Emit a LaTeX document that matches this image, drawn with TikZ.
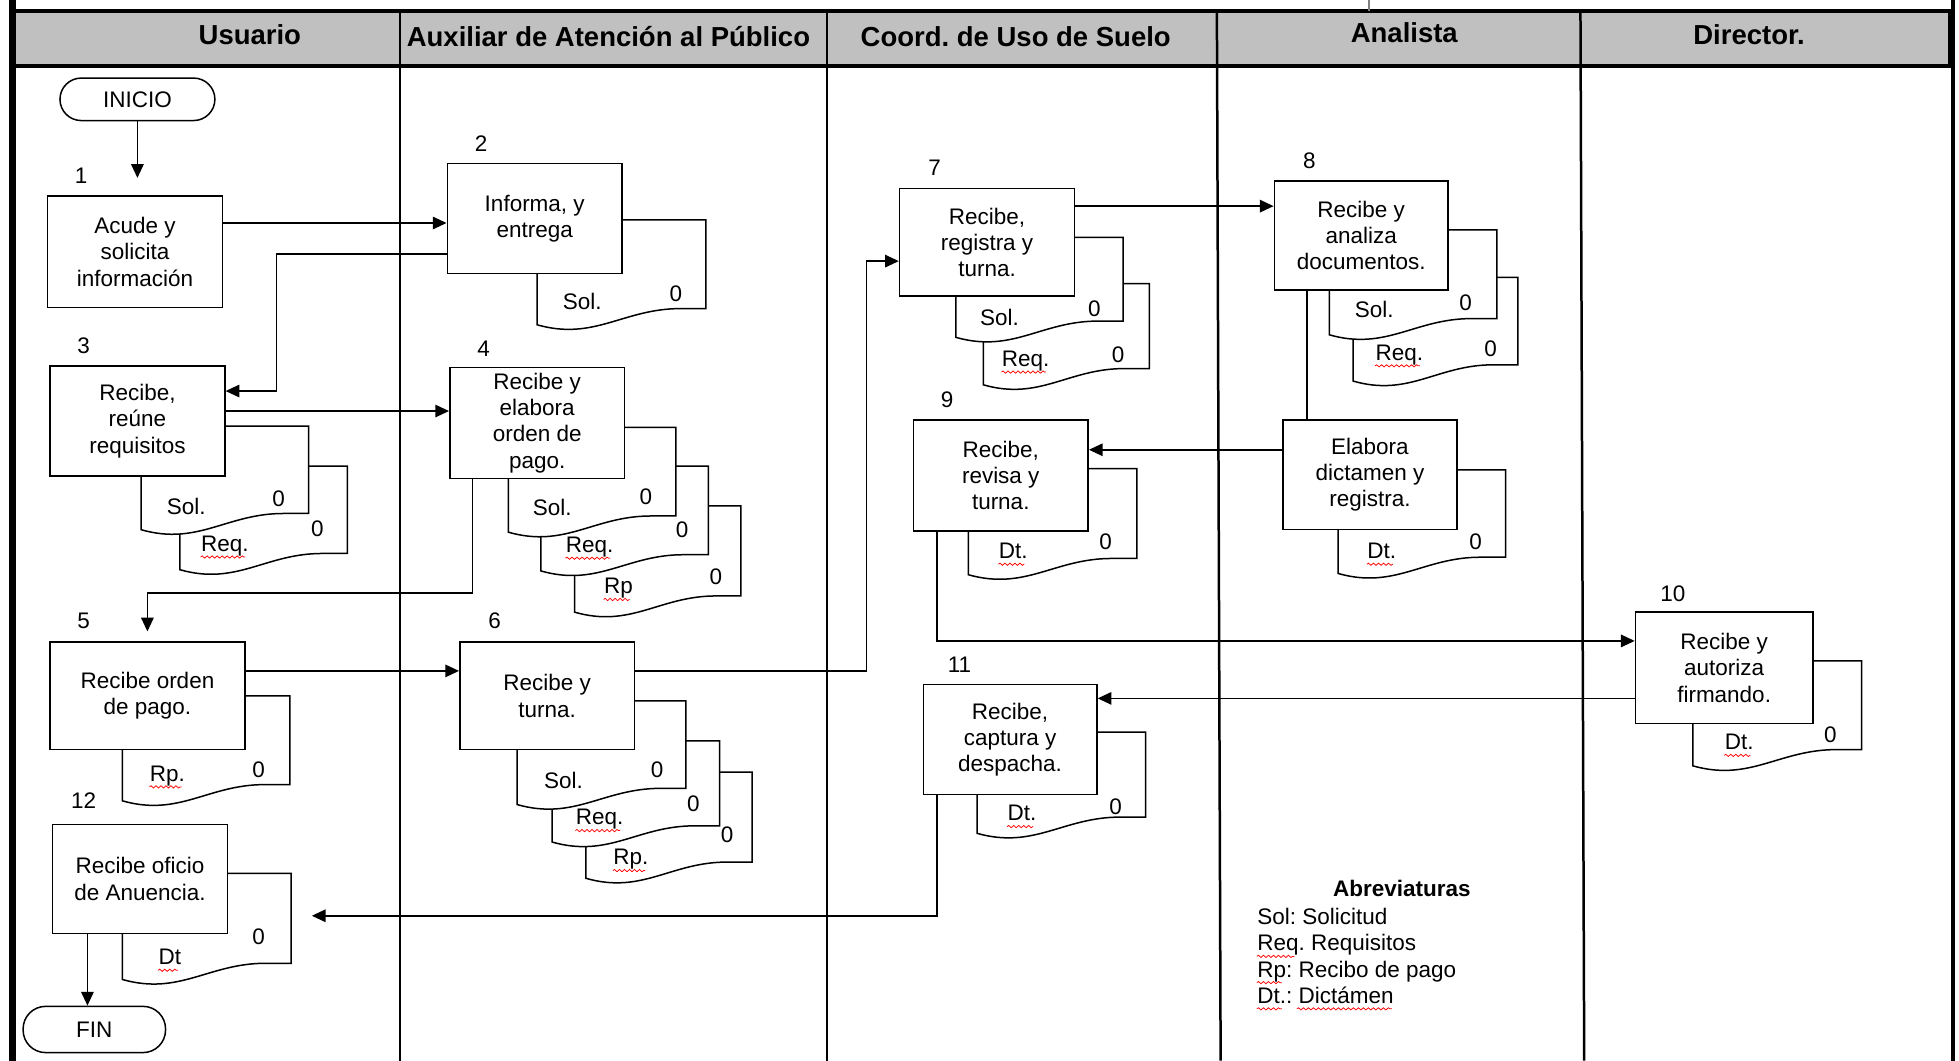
\documentclass[tikz,border=0pt]{standalone}
\usepackage{fontspec}
\setmainfont{Liberation Sans}
\usetikzlibrary{arrows.meta,calc,decorations.pathmorphing}
\definecolor{hdrgray}{HTML}{C0C0C0}
\frenchspacing
\newcommand\dfs{\fontsize{9}{10.5}\selectfont}
\newcommand\hdfs{\fontsize{11}{13}\selectfont\bfseries}
% document shape: #1 name, #2 L, #3 T, #4 R, #5 B, #6 label, #7 label pos, #8 zero pos, #9 squiggle flag
\newcommand\docu[9]{%
  \filldraw[docst] (#2,#3) -- (#4,#3) -- (#4,#5) -- ({#2+0.85*(#4-#2)},#5)
    .. controls ({#2+0.51*(#4-#2)},#5) and ({#2+0.34*(#4-#2)},{#5+26}) .. (#2,{#5+13}) -- cycle;
  \node[lbl] (#1l) at (#7) {#6};
  \node[lbl] (#1z) at (#8) {0};
  \ifnum#9=1 \draw[squig] ($(#1l.base west)+(0,4.5)$) -- ($(#1l.base east)+(-3,4.5)$);\fi
}
\begin{document}
\begin{tikzpicture}[x=0.5pt,y=-0.5pt,
  box/.style={draw, fill=white, line width=0.6pt, align=center, inner sep=0pt, font=\dfs},
  term/.style={draw, fill=white, line width=0.6pt, inner sep=0pt, font=\dfs},
  conn/.style={line width=0.6pt, -{Triangle[length=5.5pt,width=5pt]}},
  plainln/.style={line width=0.6pt},
  docst/.style={draw=black, fill=white, line width=0.6pt},
  lbl/.style={inner sep=0pt, font=\dfs},
  hdr/.style={inner sep=0pt, font=\hdfs},
  squig/.style={red, line width=0.3pt, decorate, decoration={snake, amplitude=0.45pt, segment length=2pt}},
  lane/.style={line width=1pt},
]
\useasboundingbox (0,0) rectangle (1568,849);

% ---------- frame and header ----------
\filldraw[fill=hdrgray, draw=black, line width=1.5pt] (10,9) rectangle (1561,53);
\draw[lane] (320,9) -- (320,849);
\draw[lane] (662,9) -- (662,849);
\draw[lane] (974,9) -- (977,849);
\draw[lane] (1265,9) -- (1268,849);
\draw[line width=2.5pt] (10,0) -- (10,849);
\draw[line width=1.5pt] (1563,0) -- (1563,849);
\draw[line width=0.8pt, gray] (1096,0) -- (1096,9);

\node[hdr] (h1) at (200,28) {Usuario};
\node[hdr] (h2) at (487,29) {Auxiliar de Atención al Público};
\node[hdr] (h3) at (813,29) {Coord. de Uso de Suelo};
\node[hdr] (h4) at (1124,26) {Analista};
\node[hdr] (h5) at (1400,28) {Director.};

% ---------- step numbers ----------
\node[lbl] (n1) at (65,141) {1};
\node[lbl] (n2) at (385,115) {2};
\node[lbl] (n3) at (67,277) {3};
\node[lbl] (n4) at (387,279) {4};
\node[lbl] (n5) at (67,497) {5};
\node[lbl] (n6) at (396,497) {6};
\node[lbl] (n7) at (748,134) {7};
\node[lbl] (n8) at (1048,129) {8};
\node[lbl] (n9) at (758,320) {9};
\node[lbl] (n10) at (1339,475) {10};
\node[lbl] (n11) at (768,532) {11};
\node[lbl] (n12) at (67,641) {12};

% ---------- documents (behind the boxes) ----------
\docu{dd2}{430}{176}{565}{247}{Sol.}{466,241}{541,235}{0}
\docu{dd3b}{144}{373}{278}{443}{Req.}{180,437}{254,423}{1}
\docu{dd3a}{113}{341}{247}{411}{Sol.}{149,405}{223,399}{0}
\docu{dd4c}{460}{405}{593}{477}{Rp}{495,471}{573,462}{1}
\docu{dd4b}{433}{373}{567}{444}{Req.}{472,438}{546,424}{1}
\docu{dd4a}{407}{342}{541}{413}{Sol.}{442,406}{517,398}{0}
\docu{dd5}{98}{557}{232}{628}{Rp.}{134,621}{207,616}{1}
\docu{dd6c}{469}{618}{602}{690}{Rp.}{505,688}{582,668}{1}
\docu{dd6b}{442}{593}{576}{661}{Req.}{480,656}{555,643}{1}
\docu{dd6a}{414}{561}{549}{631}{Sol.}{451,625}{526,616}{0}
\docu{dd7b}{787}{227}{920}{295}{Req.}{821,289}{895,284}{1}
\docu{dd7a}{765}{190}{899}{257}{Sol.}{800,254}{876,247}{0}
\docu{dd8b}{1083}{222}{1215}{292}{Req.}{1120,284}{1193,279}{1}
\docu{dd8a}{1064}{184}{1198}{255}{Sol.}{1100,248}{1173,242}{0}
\docu{dde}{1071}{376}{1205}{446}{Dt.}{1106,441}{1181,434}{1}
\docu{dd9}{775}{375}{910}{447}{Dt.}{811,441}{885,434}{1}
\docu{dd10}{1355}{529}{1490}{600}{Dt.}{1392,594}{1465,588}{1}
\docu{dd11}{782}{586}{917}{654}{Dt.}{818,651}{893,646}{1}
\docu{dd12}{98}{699}{233}{771}{Dt}{136,766}{207,750}{1}

% ---------- terminals and process boxes ----------
\path
  (110,79.5)   node[term, minimum width=62pt, minimum height=17pt, rounded corners=8.5pt] (inicio) {INICIO}
  (75.5,824)   node[term, minimum width=57pt, minimum height=18.5pt, rounded corners=9pt] (fin) {FIN};

\path
  (108,201.5)  node[box, minimum width=70pt, minimum height=44.5pt] (b1) {Acude y\\solicita\\información}
  (428,175)    node[box, minimum width=70pt, minimum height=44pt] (b2) {Informa, y\\entrega}
  (110,337)    node[box, minimum width=70pt, minimum height=44pt] (b3) {Recibe,\\reúne\\requisitos}
  (430,338.5)  node[box, minimum width=70pt, minimum height=44.5pt] (b4) {Recibe y\\elabora\\orden de\\pago.}
  (118,557)    node[box, minimum width=78pt, minimum height=43pt] (b5) {Recibe orden\\de pago.}
  (438,557)    node[box, minimum width=70pt, minimum height=43pt] (b6) {Recibe y\\turna.}
  (790,194)    node[box, minimum width=70pt, minimum height=43pt] (b7) {Recibe,\\registra y\\turna.}
  (1089.5,188.5) node[box, minimum width=69.5pt, minimum height=43.5pt] (b8) {Recibe y\\analiza\\documentos.}
  (1096.5,380) node[box, minimum width=69.5pt, minimum height=44pt] (be) {Elabora\\dictamen y\\registra.}
  (801,380.5)  node[box, minimum width=70pt, minimum height=44.5pt] (b9) {Recibe,\\revisa y\\turna.}
  (1380,534.5) node[box, minimum width=71pt, minimum height=44.5pt] (b10) {Recibe y\\autoriza\\firmando.}
  (808.5,592)  node[box, minimum width=69.5pt, minimum height=44pt] (b11) {Recibe,\\captura y\\despacha.}
  (112,703.5)  node[box, minimum width=70pt, minimum height=43.5pt] (b12) {Recibe oficio\\de Anuencia.};

% ---------- connectors ----------
\draw[conn, shorten >=7pt] (inicio.south) -- (inicio.south |- b1.north);
\draw[conn] ($(b1.east)+(0,-23)$) coordinate (s12) -- (s12 -| b2.west);
\draw[conn] ($(b2.west)+(0,28.5)$) -- ++(-136,0) |- ($(b3.east)+(0,-24)$);
\draw[conn] ($(b3.east)+(0,-8)$) coordinate (s34) -- (s34 -| b4.west);
\draw[conn, shorten >=4pt] ($(b4.south)+(-52,0)$) -- ++(0,91) -| (b5.north);
\draw[conn] ($(b5.east)+(0,-20)$) coordinate (s56) -- (s56 -| b6.west);
\draw[conn] ($(b6.east)+(0,-20)$) -- ++(185,0) |- ($(b7.west)+(0,15)$);
\draw[conn] ($(b7.east)+(0,-29)$) coordinate (s78) -- (s78 -| b8.west);
\draw[plainln] ($(b8.south)+(-43.5,0)$) coordinate (s8e) -- (s8e |- be.north);
\draw[conn] ($(be.west)+(0,-20)$) coordinate (se9) -- (se9 -| b9.east);
\draw[conn] ($(b9.south)+(-51,0)$) |- ($(b10.west)+(0,-21.5)$);
\draw[conn] ($(b10.west)+(0,24.5)$) coordinate (s1011) -- (s1011 -| b11.east);
\coordinate (e12) at ($(b12.east)+(67,29.5)$);
\draw[conn] ($(b11.south)+(-58.5,0)$) |- (e12);
\draw[conn] ($(b12.south)+(-42,0)$) coordinate (s12f) -- (s12f |- fin.north);

% ---------- abbreviations ----------
\node[inner sep=0pt, font=\dfs\bfseries] (abt) at (1122,711) {Abreviaturas};
\node[lbl, anchor=base west] (ab1) at (1006,740) {Sol: Solicitud};
\node[lbl, anchor=base west] (ab2) at (1006,761) {Req. Requisitos};
\node[lbl, anchor=base west] (ab3) at (1006,782) {Rp: Recibo de pago};
\node[lbl, anchor=base west] (ab4) at (1006,803) {Dt.: Dictámen};
\draw[squig] ($(ab2.base west)+(0,4.5)$) -- ++(30,0);
\draw[squig] ($(ab3.base west)+(0,4.5)$) -- ++(20,0);
\draw[squig] ($(ab4.base west)+(0,4.5)$) -- ++(20,0);
\draw[squig] ($(ab4.base west)+(32,4.5)$) -- ++(76,0);
\end{tikzpicture}
\end{document}
